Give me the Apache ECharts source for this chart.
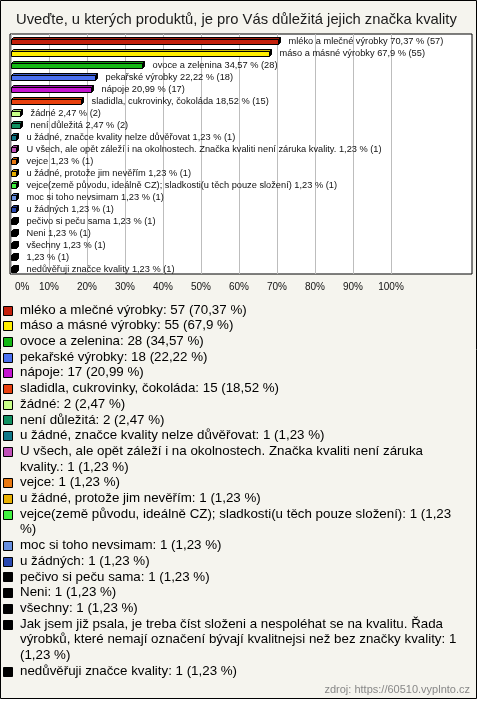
<!DOCTYPE html>
<html><head><meta charset="utf-8">
<style>html,body{margin:0;padding:0;background:#fff;}#c{width:480px;height:701px;}</style>
<script src="https://cdn.jsdelivr.net/npm/echarts@6/dist/echarts.min.js"></script>
</head><body><div id="c"></div>
<script>
const titleText = 'Uveďte, u kterých produktů, je pro Vás důležitá jejich značka kvality';
const sourceText = 'zdroj: https://60510.vyplnto.cz';
const categories = [
  'mléko a mlečné výrobky',
  'máso a másné výrobky',
  'ovoce a zelenina',
  'pekařské výrobky',
  'nápoje',
  'sladidla, cukrovinky, čokoláda',
  'žádné',
  'není důležitá',
  'u žádné, značce kvality nelze důvěřovat',
  'U všech, ale opět záleží i na okolnostech. Značka kvaliti není záruka kvality.',
  'vejce',
  'u žádné, protože jim nevěřím',
  'vejce(země původu, ideálně CZ); sladkosti(u těch pouze složení)',
  'moc si toho nevsimam',
  'u žádných',
  'pečivo si peču sama',
  'Neni',
  'všechny',
  'Jak jsem již psala, je treba číst složeni a nespoléhat se na kvalitu. Řada výrobků, které nemají označení bývají kvalitnejsi než bez značky kvality',
  'nedůvěřuji značce kvality'
];
const counts = [57, 55, 28, 18, 17, 15, 2, 2, 1, 1, 1, 1, 1, 1, 1, 1, 1, 1, 1, 1];
const percents = [70.37, 67.9, 34.57, 22.22, 20.99, 18.52, 2.47, 2.47, 1.23, 1.23, 1.23, 1.23, 1.23, 1.23, 1.23, 1.23, 1.23, 1.23, 1.23, 1.23];
const colors = ['#c4200c', '#ffee00', '#14b814', '#4a70f0', '#c414d0', '#e8400e', '#c8ff88', '#109060',
  '#107888', '#c050b8', '#e87810', '#e8b000', '#40f040', '#6890e0', '#2848b0',
  '#000000', '#000000', '#000000', '#000000', '#000000'];
const xTicks = [0, 10, 20, 30, 40, 50, 60, 70, 80, 90, 100];
const barLabelMaxChars = 100; // very long answers are shown without name in the chart

const FONT = '"Liberation Sans", Arial, sans-serif';
const fmt = v => String(v).replace('.', ',');

const measureCtx = document.createElement('canvas').getContext('2d');
function textW(text, size) { measureCtx.font = size + 'px ' + FONT; return measureCtx.measureText(text).width; }
// fit font sizes to the reference's text widths
const titleSize = 16 * 441 / textW(titleText, 16);
const legendSize = 13 * 227 / textW('mléko a mlečné výrobky: 57 (70,37 %)', 13);
const barLblSize = 9 * 155 / textW('mléko a mlečné výrobky 70,37 % (57)', 9);

// ---- layout constants
const PX_PER_PCT = 3.8;
const G0 = {left: 10, top: 34, width: 462, height: 240};
const xMin0 = -1 / PX_PER_PCT;
const xMax0 = (G0.width - 1) / PX_PER_PCT;

function shade(hex, f) {
  const n = parseInt(hex.slice(1), 16);
  let r = (n >> 16) & 255, g = (n >> 8) & 255, b = n & 255;
  r = Math.round(r * f); g = Math.round(g * f); b = Math.round(b * f);
  return 'rgb(' + Math.min(255, r) + ',' + Math.min(255, g) + ',' + Math.min(255, b) + ')';
}

function wrap(text, size, maxW) {
  const words = text.split(' ');
  const lines = [];
  let cur = '';
  for (const w of words) {
    const t = cur ? cur + ' ' + w : w;
    if (cur && textW(t, size) > maxW) { lines.push(cur); cur = w; }
    else cur = t;
  }
  if (cur) lines.push(cur);
  return lines;
}

const legendElems = [];
let lineIdx = 0;
const LEG_Y0 = 310, LEG_LH = 15.7, LEG_TX = 20, LEG_MAXW = 440;
categories.forEach((name, i) => {
  const text = name + ': ' + counts[i] + ' (' + fmt(percents[i]) + ' %)';
  const lines = wrap(text, legendSize, LEG_MAXW);
  const cy = LEG_Y0 + lineIdx * LEG_LH;
  legendElems.push({
    type: 'rect', shape: {x: 3.5, y: Math.round(cy - 4.5) + 0.5, width: 9, height: 9},
    style: {fill: colors[i], stroke: '#000', lineWidth: 1}, z: 5
  });
  lines.forEach((ln, k) => {
    legendElems.push({
      type: 'text', x: LEG_TX, y: LEG_Y0 + (lineIdx + k) * LEG_LH,
      style: {text: ln, fontSize: legendSize, fontFamily: FONT, fill: '#000', verticalAlign: 'middle', align: 'left'}, z: 5
    });
  });
  lineIdx += lines.length;
});

const barData = percents.map((p, i) => [p, i]);

const chart = echarts.init(document.getElementById('c'), null, {renderer: 'canvas'});
chart.setOption({
  backgroundColor: '#ffffff',
  animation: false,
  grid: [
    {left: G0.left, top: G0.top, width: G0.width, height: G0.height, show: true,
     backgroundColor: '#ffffff', borderColor: '#000', borderWidth: 1},
    {left: 11, top: G0.top, width: 100 * PX_PER_PCT, height: G0.height, show: false}
  ],
  xAxis: [
    {gridIndex: 0, type: 'value', min: xMin0, max: xMax0, show: false},
    {gridIndex: 1, type: 'value', min: xTicks[0], max: xTicks[xTicks.length - 1], interval: 10,
     axisLine: {show: false}, axisTick: {show: false},
     splitLine: {show: true, lineStyle: {color: '#bdbdbd', width: 1}},
     axisLabel: {
       margin: 8, fontSize: 10, fontFamily: FONT, color: '#111', alignMinLabel: 'left',
       formatter: v => v === xTicks[0] ? '{m|' + v + '%}' : v + '%',
       rich: {m: {fontSize: 10, fontFamily: FONT, color: '#111', padding: [0, 0, 0, 4]}}
     }}
  ],
  yAxis: [
    {gridIndex: 0, type: 'category', data: categories, inverse: true, show: false},
    {gridIndex: 1, type: 'value', show: false}
  ],
  series: [{
    type: 'custom',
    xAxisIndex: 0, yAxisIndex: 0,
    data: barData,
    encode: {x: 0, y: 1},
    renderItem: function (params, api) {
      const idx = api.value(1);
      const v = api.value(0);
      const p0 = api.coord([0, idx]);
      const p1 = api.coord([v, idx]);
      const c = Math.round(p0[1]);
      const x0 = Math.round(p0[0]) + 0.5;
      const x1 = Math.round(p1[0]) + 0.5;
      const top = c - 0.5, bot = c + 4.5, d = 2;
      const col = colors[idx];
      const isBlack = col === '#000000';
      const stroke = '#000';
      const name = categories[idx];
      const lblName = name.length > barLabelMaxChars ? '' : name + ' ';
      const lbl = lblName + fmt(percents[idx]) + ' % (' + counts[idx] + ')';
      return {
        type: 'group',
        children: [
          {type: 'polygon', shape: {points: [[x0, top], [x0 + d, top - d], [x1 + d, top - d], [x1, top]]},
           style: {fill: isBlack ? '#000' : shade(col, 0.8), stroke: stroke, lineWidth: 1}},
          {type: 'polygon', shape: {points: [[x1, top], [x1 + d, top - d], [x1 + d, bot - d], [x1, bot]]},
           style: {fill: '#000', stroke: stroke, lineWidth: 1}},
          {type: 'rect', shape: {x: x0, y: top, width: x1 - x0, height: bot - top},
           style: {fill: col, stroke: stroke, lineWidth: 1}},
          {type: 'text', x: x1 + d + 8, y: c + 1,
           style: {text: lbl, fontSize: barLblSize, fontFamily: FONT, fill: '#111', verticalAlign: 'middle', align: 'left'}}
        ]
      };
    }
  }],
  graphic: [
    {type: 'rect', shape: {x: 0.5, y: 0.5, width: 476, height: 698},
     style: {fill: '#f5f4ee', stroke: '#000', lineWidth: 1}, z: -10, silent: true},
    {type: 'text', x: 16, y: 20,
     style: {text: titleText, fontSize: titleSize, fontFamily: FONT, fill: '#1a1a1a', align: 'left', verticalAlign: 'middle'}, z: 5},
    {type: 'text', x: 470, y: 690,
     style: {text: sourceText, fontSize: 11, fontFamily: FONT, fill: '#888', align: 'right', verticalAlign: 'middle'}, z: 5}
  ].concat(legendElems)
});
</script></body></html>
